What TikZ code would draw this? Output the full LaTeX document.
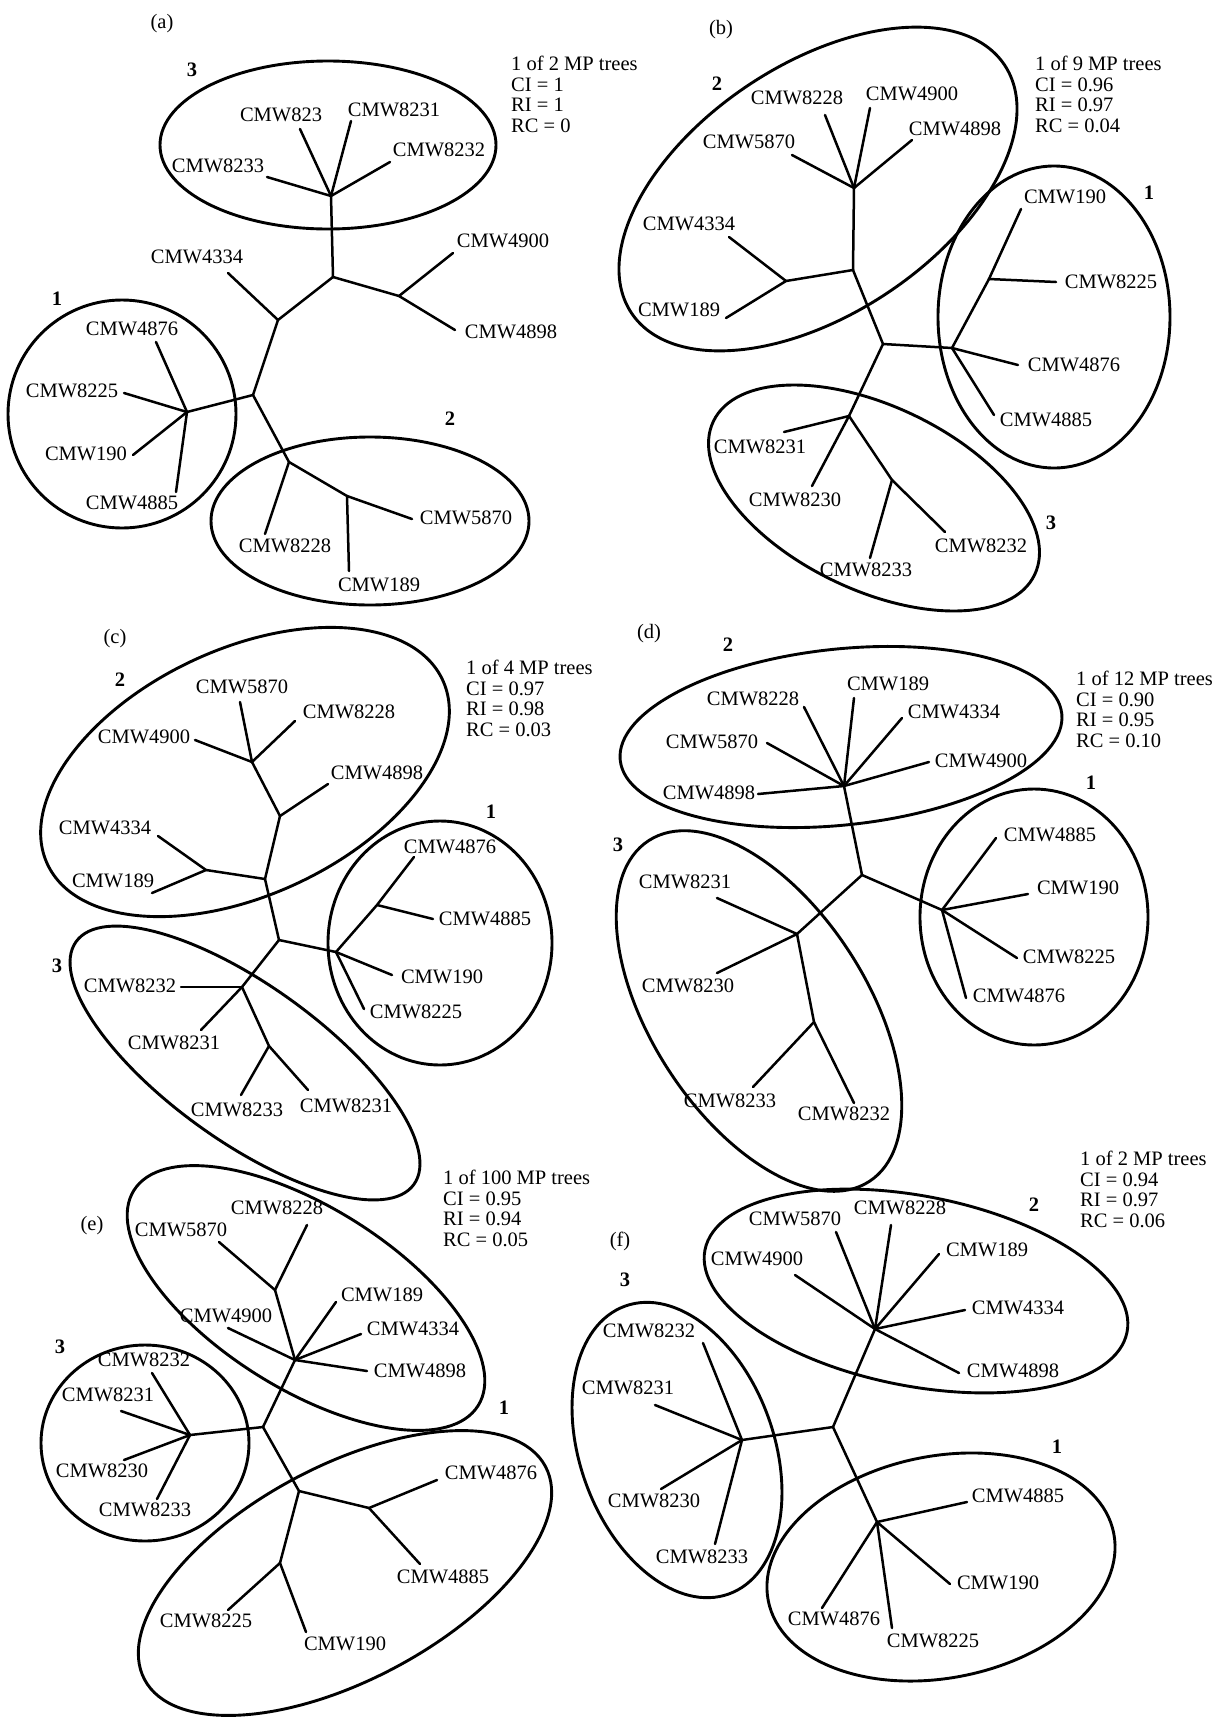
\documentclass[tikz,border=0pt]{standalone}
\usepackage{fontspec}
\setmainfont{Liberation Serif}
\newcommand{\lblfont}{\fontsize{20.5}{20.5}\selectfont}
\newcommand{\leafat}[5]{%
  \coordinate (#1-e) at (#3);
  \node[lab] (#1) at (#4) {#5};
  \draw[br] (#2) -- (#1-e);}
\tikzset{
  br/.style={line width=2.5pt, line cap=round, line join=round},
  ell/.style={line width=2.9pt},
  lab/.style={font=\lblfont, inner sep=0pt},
  num/.style={font=\lblfont\bfseries, inner sep=0pt},
  info/.style={font=\lblfont, align=left, inner sep=0pt, anchor=north west},
}
\begin{document}
\begin{tikzpicture}[x=1pt, y=-1pt]
\useasboundingbox[fill=white] (0,0) rectangle (1224,1722);

% ================= (a) =================
\node[lab] (a-tag) at (162,24) {(a)};
\node[info] (a-info) at (511,56) {1 of 2 MP trees\\CI = 1\\RI = 1\\RC = 0};
\node[num] (a-n3) at (192,70) {3};
\node[num] (a-n1) at (57,299) {1};
\node[num] (a-n2) at (450,419) {2};
\draw[ell] (328,145) ellipse (168pt and 84pt);
\draw[ell] (122,414) ellipse (114pt and 114pt);
\draw[ell] (370,521) ellipse (159pt and 84pt);
\coordinate (a-h3) at (331,196);
\coordinate (a-X) at (333,277);
\coordinate (a-Q) at (399,296);
\coordinate (a-Y) at (278,320);
\coordinate (a-Z) at (253,395);
\coordinate (a-h1) at (187,412);
\coordinate (a-W) at (289,462);
\coordinate (a-V) at (347,496);
\draw[br] (a-h3) -- (a-X);
\draw[br] (a-X) -- (a-Q);
\draw[br] (a-X) -- (a-Y);
\draw[br] (a-Y) -- (a-Z);
\draw[br] (a-Z) -- (a-h1);
\draw[br] (a-Z) -- (a-W);
\draw[br] (a-W) -- (a-V);
\leafat{a-823}{a-h3}{300,129}{281,115}{CMW823}
\leafat{a-8231}{a-h3}{351,121}{394,110}{CMW8231}
\leafat{a-8232}{a-h3}{390,162}{439,150}{CMW8232}
\leafat{a-8233}{a-h3}{267,177}{218,166}{CMW8233}
\leafat{a-4900}{a-Q}{453,253}{503,241}{CMW4900}
\leafat{a-4898}{a-Q}{455,330}{511,332}{CMW4898}
\leafat{a-4334}{a-Y}{228,273}{197,257}{CMW4334}
\leafat{a-4876}{a-h1}{156,342}{132,329}{CMW4876}
\leafat{a-8225}{a-h1}{124,393}{72,391}{CMW8225}
\leafat{a-190}{a-h1}{133,455}{86,454}{CMW190}
\leafat{a-4885}{a-h1}{176,492}{132,503}{CMW4885}
\leafat{a-8228}{a-W}{265,534}{285,546}{CMW8228}
\leafat{a-5870}{a-V}{412,519}{466,518}{CMW5870}
\leafat{a-189}{a-V}{349,571}{379,585}{CMW189}

% ================= (b) =================
\node[lab] (b-tag) at (721,30) {(b)};
\node[info] (b-info) at (1035,56) {1 of 9 MP trees\\CI = 0.96\\RI = 0.97\\RC = 0.04};
\node[num] (b-n2) at (717,84) {2};
\node[num] (b-n1) at (1149,193) {1};
\node[num] (b-n3) at (1051,523) {3};
\draw[ell, rotate around={33.6:(818,189)}] (818,189) ellipse (224pt and 125pt);
\draw[ell] (1054,317) ellipse (116pt and 151pt);
\draw[ell, rotate around={-25.5:(874,498)}] (874,498) ellipse (178pt and 92pt);
\coordinate (b-h2) at (854,188);
\coordinate (b-N1) at (853,270);
\coordinate (b-N2) at (786,281);
\coordinate (b-C) at (883,344);
\coordinate (b-h1) at (952,348);
\coordinate (b-N3) at (989,279);
\coordinate (b-N4) at (849,416);
\coordinate (b-N5) at (892,480);
\draw[br] (b-h2) -- (b-N1);
\draw[br] (b-N1) -- (b-N2);
\draw[br] (b-N1) -- (b-C);
\draw[br] (b-C) -- (b-h1);
\draw[br] (b-h1) -- (b-N3);
\draw[br] (b-C) -- (b-N4);
\draw[br] (b-N4) -- (b-N5);
\leafat{b-8228}{b-h2}{825,115}{797,98}{CMW8228}
\leafat{b-4900}{b-h2}{870,108}{912,94}{CMW4900}
\leafat{b-4898}{b-h2}{912,140}{955,129}{CMW4898}
\leafat{b-5870}{b-h2}{792,155}{749,142}{CMW5870}
\leafat{b-4334}{b-N2}{729,237}{689,224}{CMW4334}
\leafat{b-189}{b-N2}{726,318}{679,310}{CMW189}
\leafat{b-4876}{b-h1}{1018,365}{1074,365}{CMW4876}
\leafat{b-4885}{b-h1}{994,415}{1046,420}{CMW4885}
\leafat{b-8225}{b-N3}{1056,282}{1111,282}{CMW8225}
\leafat{b-190}{b-N3}{1021,209}{1065,197}{CMW190}
\leafat{b-8231}{b-N4}{784,432}{760,447}{CMW8231}
\leafat{b-8230}{b-N4}{812,486}{795,500}{CMW8230}
\leafat{b-8233}{b-N5}{870,558}{866,570}{CMW8233}
\leafat{b-8232}{b-N5}{945,532}{981,546}{CMW8232}

% ================= (c) =================
\node[lab] (c-tag) at (115,639) {(c)};
\node[info] (c-info) at (466,660) {1 of 4 MP trees\\CI = 0.97\\RI = 0.98\\RC = 0.03};
\node[num] (c-n2) at (120,680) {2};
\node[num] (c-n1) at (491,812) {1};
\node[num] (c-n3) at (57,966) {3};
\draw[ell, rotate around={25:(245,772)}] (245,772) ellipse (218pt and 123pt);
\draw[ell] (440,943) ellipse (112pt and 122pt);
\draw[ell, rotate around={-35.7:(245,1063)}] (245,1063) ellipse (208pt and 78pt);
\coordinate (c-A) at (252,762);
\coordinate (c-B) at (280,816);
\coordinate (c-C) at (265,879);
\coordinate (c-D) at (206,870);
\coordinate (c-E) at (279,940);
\coordinate (c-h1) at (336,952);
\coordinate (c-N) at (377,905);
\coordinate (c-F) at (242,987);
\coordinate (c-G) at (269,1046);
\draw[br] (c-A) -- (c-B);
\draw[br] (c-B) -- (c-C);
\draw[br] (c-C) -- (c-D);
\draw[br] (c-C) -- (c-E);
\draw[br] (c-E) -- (c-h1);
\draw[br] (c-h1) -- (c-N);
\draw[br] (c-E) -- (c-F);
\draw[br] (c-F) -- (c-G);
\leafat{c-5870}{c-A}{240,702}{242,687}{CMW5870}
\leafat{c-8228}{c-A}{295,721}{349,712}{CMW8228}
\leafat{c-4900}{c-A}{195,740}{144,737}{CMW4900}
\leafat{c-4898}{c-B}{328,784}{377,773}{CMW4898}
\leafat{c-4334}{c-D}{158,836}{105,828}{CMW4334}
\leafat{c-189}{c-D}{152,893}{113,881}{CMW189}
\leafat{c-4876}{c-N}{414,857}{450,847}{CMW4876}
\leafat{c-4885}{c-N}{433,919}{485,919}{CMW4885}
\leafat{c-190}{c-h1}{392,975}{442,977}{CMW190}
\leafat{c-8225}{c-h1}{364,1009}{416,1012}{CMW8225}
\leafat{c-8232}{c-F}{181,987}{130,986}{CMW8232}
\leafat{c-8231}{c-F}{201,1030}{174,1043}{CMW8231}
\leafat{c-8233}{c-G}{241,1095}{237,1110}{CMW8233}
\leafat{c-8231b}{c-G}{308,1090}{346,1106}{CMW8231}

% ================= (d) =================
\node[lab] (d-tag) at (649,634) {(d)};
\node[info] (d-info) at (1076,671) {1 of 12 MP trees\\CI = 0.90\\RI = 0.95\\RC = 0.10};
\node[num] (d-n2) at (728,645) {2};
\node[num] (d-n1) at (1091,783) {1};
\node[num] (d-n3) at (618,845) {3};
\draw[ell, rotate around={6:(841,737)}] (841,737) ellipse (222pt and 88pt);
\draw[ell] (1034,917) ellipse (114pt and 128pt);
\draw[ell, rotate around={-57.1:(759,1011)}] (759,1011) ellipse (203pt and 108pt);
\coordinate (d-h2) at (844,786);
\coordinate (d-C) at (862,875);
\coordinate (d-h1) at (942,910);
\coordinate (d-N1) at (797,934);
\coordinate (d-N2) at (814,1022);
\draw[br] (d-h2) -- (d-C);
\draw[br] (d-C) -- (d-h1);
\draw[br] (d-C) -- (d-N1);
\draw[br] (d-N1) -- (d-N2);
\leafat{d-8228}{d-h2}{804,707}{753,699}{CMW8228}
\leafat{d-189}{d-h2}{854,698}{888,684}{CMW189}
\leafat{d-4334}{d-h2}{902,718}{954,712}{CMW4334}
\leafat{d-5870}{d-h2}{767,743}{712,742}{CMW5870}
\leafat{d-4900}{d-h2}{929,762}{981,761}{CMW4900}
\leafat{d-4898}{d-h2}{758,794}{709,793}{CMW4898}
\leafat{d-4885}{d-h1}{996,838}{1050,835}{CMW4885}
\leafat{d-190}{d-h1}{1028,894}{1078,888}{CMW190}
\leafat{d-8225}{d-h1}{1017,958}{1069,957}{CMW8225}
\leafat{d-4876}{d-h1}{966,998}{1019,996}{CMW4876}
\leafat{d-8231}{d-N1}{717,898}{685,882}{CMW8231}
\leafat{d-8230}{d-N1}{717,973}{688,986}{CMW8230}
\leafat{d-8233}{d-N2}{753,1087}{730,1101}{CMW8233}
\leafat{d-8232}{d-N2}{854,1103}{844,1114}{CMW8232}

% ================= (e) =================
\node[lab] (e-tag) at (92,1226) {(e)};
\node[info] (e-info) at (443,1170) {1 of 100 MP trees\\CI = 0.95\\RI = 0.94\\RC = 0.05};
\node[num] (e-n3) at (60,1347) {3};
\node[num] (e-n1) at (504,1408) {1};
\draw[ell, rotate around={-32:(306,1298)}] (306,1298) ellipse (203pt and 91pt);
\draw[ell] (145,1443) ellipse (104pt and 98pt);
\draw[ell, rotate around={28:(345,1573)}] (345,1573) ellipse (227pt and 107pt);
\coordinate (e-N1) at (275,1290);
\coordinate (e-h2) at (295,1360);
\coordinate (e-C) at (263,1427);
\coordinate (e-h3) at (190,1435);
\coordinate (e-N2) at (299,1491);
\coordinate (e-N3) at (369,1508);
\coordinate (e-N4) at (280,1563);
\draw[br] (e-N1) -- (e-h2);
\draw[br] (e-h2) -- (e-C);
\draw[br] (e-C) -- (e-h3);
\draw[br] (e-C) -- (e-N2);
\draw[br] (e-N2) -- (e-N3);
\draw[br] (e-N2) -- (e-N4);
\leafat{e-5870}{e-N1}{219,1242}{181,1230}{CMW5870}
\leafat{e-8228}{e-N1}{307,1225}{277,1208}{CMW8228}
\leafat{e-4900}{e-h2}{228,1328}{226,1316}{CMW4900}
\leafat{e-189}{e-h2}{336,1302}{382,1295}{CMW189}
\leafat{e-4334}{e-h2}{361,1334}{413,1329}{CMW4334}
\leafat{e-4898}{e-h2}{367,1371}{420,1371}{CMW4898}
\leafat{e-8232}{e-h3}{152,1373}{144,1360}{CMW8232}
\leafat{e-8231}{e-h3}{121,1411}{108,1395}{CMW8231}
\leafat{e-8230}{e-h3}{124,1460}{102,1471}{CMW8230}
\leafat{e-8233}{e-h3}{157,1499}{145,1510}{CMW8233}
\leafat{e-4876}{e-N3}{437,1480}{491,1473}{CMW4876}
\leafat{e-4885}{e-N3}{420,1564}{443,1577}{CMW4885}
\leafat{e-8225}{e-N4}{228,1610}{206,1621}{CMW8225}
\leafat{e-190}{e-N4}{306,1632}{345,1644}{CMW190}

% ================= (f) =================
\node[lab] (f-tag) at (620,1241) {(f)};
\node[info] (f-info) at (1080,1151) {1 of 2 MP trees\\CI = 0.94\\RI = 0.97\\RC = 0.06};
\node[num] (f-n2) at (1034,1205) {2};
\node[num] (f-n3) at (625,1280) {3};
\node[num] (f-n1) at (1057,1447) {1};
\draw[ell, rotate around={-11:(916,1291)}] (916,1291) ellipse (215pt and 95pt);
\draw[ell, rotate around={-70.2:(677,1450)}] (677,1450) ellipse (153pt and 97pt);
\draw[ell, rotate around={11:(941,1567)}] (941,1567) ellipse (176pt and 111pt);
\coordinate (f-h2) at (875,1329);
\coordinate (f-C) at (833,1427);
\coordinate (f-h3) at (742,1440);
\coordinate (f-h1) at (877,1522);
\draw[br] (f-h2) -- (f-C);
\draw[br] (f-C) -- (f-h3);
\draw[br] (f-C) -- (f-h1);
\leafat{f-5870}{f-h2}{836,1232}{795,1219}{CMW5870}
\leafat{f-8228}{f-h2}{891,1225}{900,1208}{CMW8228}
\leafat{f-4900}{f-h2}{795,1275}{757,1259}{CMW4900}
\leafat{f-189}{f-h2}{939,1254}{987,1250}{CMW189}
\leafat{f-4334}{f-h2}{965,1310}{1018,1308}{CMW4334}
\leafat{f-4898}{f-h2}{959,1373}{1013,1371}{CMW4898}
\leafat{f-8232}{f-h3}{703,1343}{649,1331}{CMW8232}
\leafat{f-8231}{f-h3}{655,1405}{628,1388}{CMW8231}
\leafat{f-8230}{f-h3}{661,1489}{654,1501}{CMW8230}
\leafat{f-8233}{f-h3}{715,1544}{702,1557}{CMW8233}
\leafat{f-4885}{f-h1}{967,1502}{1018,1496}{CMW4885}
\leafat{f-190}{f-h1}{950,1584}{998,1583}{CMW190}
\leafat{f-4876}{f-h1}{822,1608}{834,1619}{CMW4876}
\leafat{f-8225}{f-h1}{892,1628}{933,1641}{CMW8225}
\end{tikzpicture}
\end{document}
